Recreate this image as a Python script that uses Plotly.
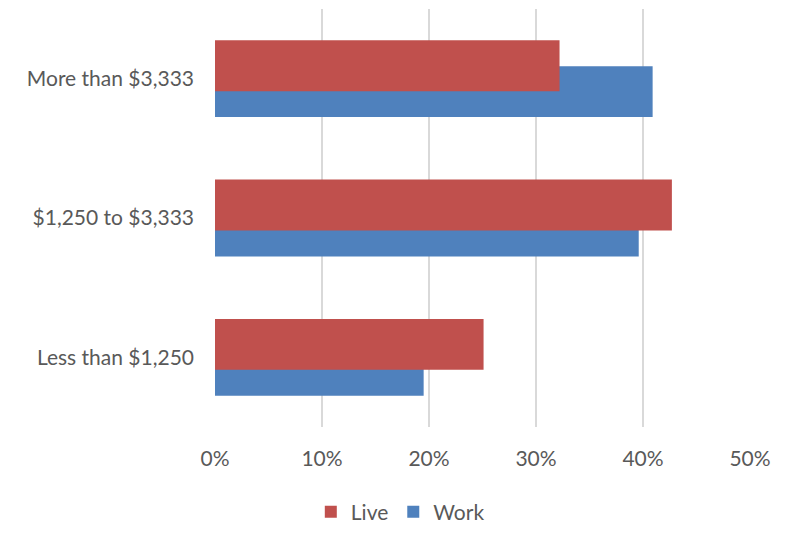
import plotly.graph_objects as go

categories = ["Less than $1,250", "$1,250 to $3,333", "More than $3,333"]
live = [0.251, 0.427, 0.322]
work = [0.195, 0.396, 0.409]

bar_w = 0.366
fig = go.Figure()
fig.add_trace(go.Bar(
    y=categories, x=work, name="Work", orientation="h",
    marker=dict(color="#4F81BD", line=dict(width=0)),
    width=bar_w, offset=-0.276, legendrank=2,
))
fig.add_trace(go.Bar(
    y=categories, x=live, name="Live", orientation="h",
    marker=dict(color="#C0504D", line=dict(width=0)),
    width=bar_w, offset=-0.09, legendrank=1,
))

font = dict(family="Lato", size=21, color="#595959")
fig.update_layout(
    width=788, height=534,
    margin=dict(l=215, r=38, t=9, b=107),
    paper_bgcolor="white", plot_bgcolor="white",
    barmode="overlay",
    font=font,
    showlegend=True,
    legend=dict(orientation="h", x=0.508, xanchor="center", xref="container",
                y=0.041, yanchor="middle", yref="container",
                font=dict(family="Lato", size=21, color="#595959"),
                itemwidth=30, traceorder="normal"),
    xaxis=dict(range=[0, 0.5], tickvals=[0, 0.1, 0.2, 0.3, 0.4, 0.5],
               tickformat=".0%", showgrid=True, gridcolor="#D9D9D9", gridwidth=1.6,
               zeroline=False, showline=False, ticks="", ticklabelstandoff=17,
               fixedrange=True),
    yaxis=dict(categoryorder="array", categoryarray=categories, range=[-0.5, 2.5],
               showgrid=False, zeroline=False, showline=False, ticks="",
               ticklabelstandoff=20, fixedrange=True),
)
fig.write_html("out.html")
